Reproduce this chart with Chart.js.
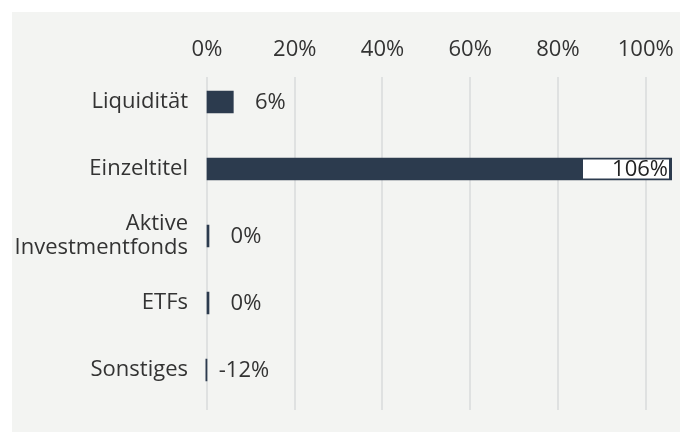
<!DOCTYPE html>
<html>
<head>
    <meta charset="utf-8">
    <title>Vermögensaufteilung</title>
    <script src="https://cdn.jsdelivr.net/npm/chart.js"></script>
    <style>
        body { margin: 0; background: white; font-family: "Open Sans"; }
        .panel {
            position: absolute;
            left: 12px;
            top: 12px;
            width: 668px;
            height: 420px;
            background: #f3f4f2;
        }
        canvas { display: block; }
    </style>
</head>
<body>
    <div class="panel">
        <canvas id="myChart" width="668" height="420"></canvas>
    </div>

    <script>
        // Kategorien und Anteile in Prozent
        const categories = ['Liquidität', 'Einzeltitel', ['Aktive', 'Investmentfonds'], 'ETFs', 'Sonstiges'];
        const values = [6, 106, 0, 0, -12];
        const tickStep = 20;
        const tickMax = 100;

        const barColor = '#2c3b4e';
        const textColor = '#333333';
        const fontSize = 22;
        const labelFont = fontSize + 'px "Open Sans"';

        // senkrechte Hilfslinien an den Ticks (etwas kuerzer oben, laenger unten)
        const gridPlugin = {
            id: 'gridPlugin',
            beforeDatasetsDraw(chart) {
                const ctx = chart.ctx;
                const area = chart.chartArea;
                const xs = chart.scales.x;
                ctx.save();
                ctx.strokeStyle = '#dfe1e1';
                ctx.lineWidth = 2;
                xs.ticks.forEach(t => {
                    const px = Math.round(xs.getPixelForValue(t.value));
                    ctx.beginPath();
                    ctx.moveTo(px, area.top + 8.5);
                    ctx.lineTo(px, area.bottom + 6.5);
                    ctx.stroke();
                });
                ctx.restore();
            }
        };

        // Werte neben bzw. im Balken
        const valueLabels = {
            id: 'valueLabels',
            afterDatasetsDraw(chart) {
                const ctx = chart.ctx;
                const area = chart.chartArea;
                const meta = chart.getDatasetMeta(0);
                ctx.save();
                ctx.font = labelFont;
                ctx.textBaseline = 'middle';
                meta.data.forEach((bar, i) => {
                    const txt = values[i] + '%';
                    const end = Math.max(bar.x, area.left);
                    const w = ctx.measureText(txt).width;
                    if (end + 37 + w / 2 > area.right) {
                        const right = end - 3;
                        ctx.fillStyle = '#ffffff';
                        ctx.fillRect(right - 86, bar.y - 9.5, 86, 19);
                        ctx.fillStyle = '#222222';
                        ctx.textAlign = 'right';
                        ctx.fillText(txt, right - 1, bar.y + 1);
                    } else {
                        ctx.fillStyle = textColor;
                        ctx.textAlign = 'center';
                        ctx.fillText(txt, end + 37, bar.y + 1);
                    }
                });
                ctx.restore();
            }
        };

        const ctx = document.getElementById('myChart').getContext('2d');

        window.myChart = new Chart(ctx, {
            type: 'bar',
            data: {
                labels: categories,
                datasets: [{
                    data: values,
                    backgroundColor: barColor,
                    barThickness: 22,
                    minBarLength: 2,
                    clip: { left: 1.5, top: false, right: 0, bottom: false }
                }]
            },
            options: {
                indexAxis: 'y',
                responsive: false,
                animation: false,
                layout: { padding: { top: 24.3, right: 8, bottom: 28.5, left: 0 } },
                plugins: {
                    legend: { display: false },
                    tooltip: { enabled: false }
                },
                scales: {
                    x: {
                        position: 'top',
                        min: 0,
                        max: Math.max(...values),
                        grid: { display: false, drawTicks: false },
                        border: { display: false },
                        afterFit: scale => {
                            scale.height = 32.2;
                            scale.paddingLeft = 0;
                            scale.paddingRight = 0;
                        },
                        ticks: {
                            stepSize: tickStep,
                            includeBounds: false,
                            padding: 5.8,
                            color: textColor,
                            font: { family: 'Open Sans', size: fontSize },
                            maxRotation: 0,
                            callback: v => (v <= tickMax ? v + '%' : '')
                        }
                    },
                    y: {
                        grid: { display: false, drawTicks: false },
                        border: { display: false },
                        afterFit: scale => {
                            scale.width = 195;
                            scale.paddingTop = 0;
                            scale.paddingBottom = 0;
                        },
                        ticks: {
                            padding: 19,
                            color: textColor,
                            font: { family: 'Open Sans', size: fontSize, lineHeight: 1.1 }
                        }
                    }
                }
            },
            plugins: [gridPlugin, valueLabels]
        });
    </script>
</body>
</html>
